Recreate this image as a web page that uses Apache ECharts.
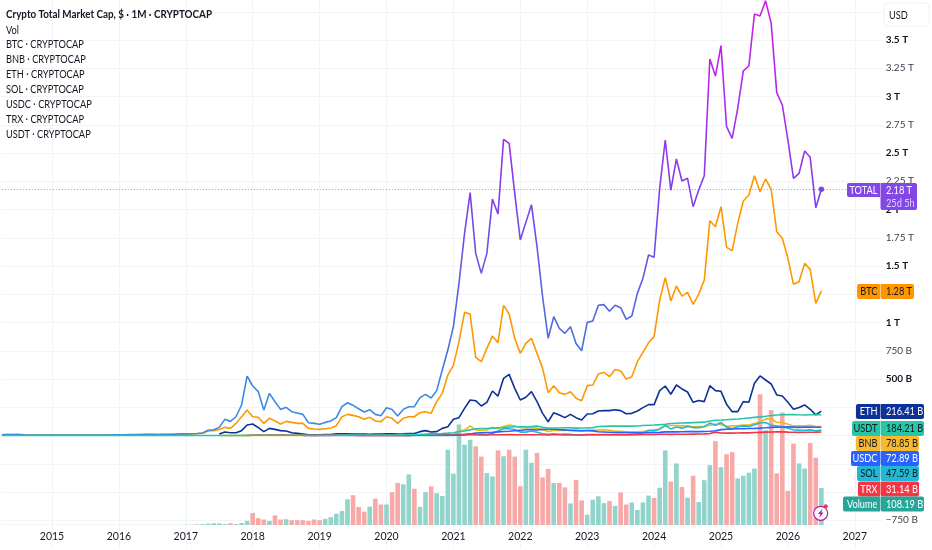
<!DOCTYPE html>
<html><head><meta charset="utf-8">
<style>html,body{margin:0;padding:0;background:#fff}#c{width:932px;height:550px}</style>
<script src="https://cdn.jsdelivr.net/npm/echarts@6/dist/echarts.min.js"></script>
</head><body><div id="c"></div>
<script>
// months run from Apr 2014 (index 0) to Jun 2027; values in billions of USD
const firstYear = 2014, firstMonth = 3, monthCount = 159;
const yearLabels = [2015,2016,2017,2018,2019,2020,2021,2022,2023,2024,2025,2026,2027];
const titleLines = ["Crypto Total Market Cap, $ · 1M · CRYPTOCAP","Vol","BTC · CRYPTOCAP","BNB · CRYPTOCAP","ETH · CRYPTOCAP","SOL · CRYPTOCAP","USDC · CRYPTOCAP","TRX · CRYPTOCAP","USDT · CRYPTOCAP"];

const totalVals = [6,8,8,8,6,5,5,5,5, 3.5,3.5,3.5,3.5,3.5,3.5,4,3.5,3.5,4,5,6, 6,7,7.5,7.5,9,10.5,10,9.5,10,10.5,11,14, 14,16,
18,22,46,51,72,143,125,166,270,526,438,388,225,373,299,231,249,211,199,187,113,107,99,116,128,158,255,290,267,237,208,228,187,175,246,231,172,231,255,255,335,364,332,397,
580,756,
963,1346,1789,2149,1612,1435,1612,2093,1960,2621,2585,2143,1730,1886,2043,1671,1228,860,1052,948,904,963,815,750,1001,1013,1152,1158,1099,1152,1131,
1028,1057,1258,1391,1597,1577,2187,2615,2172,2447,2252,2276,2025,2172,2299,3332,3181,3450,2733,2630,2895,3226,3270,3730,3712,3848,3647,3034,2925,2615,2276,2320,2518,2462,2016,2180];

const btcVals = [5.5,7.5,7.5,7.5,5.5,4.5,4.5,4.5,4.5, 3,3,3,3,3,3,3.5,3.2,3.2,3.5,4.5,5.5, 5.5,6.2,6.5,6.5,8,9.5,9,8.8,9.2,9.5,11.5,13, 13,14,16,
20,40,43,54,72,63,107,166,225,166,161,107,152,128,102,125,116,107,107,63,57,54,60,66,87,166,187,178,166,143,161,128,122,166,152,107,152,166,166,202,211,196,299,373,535,
620,830,1090,1075,692,653,771,880,821,1152,1075,860,727,815,860,727,594,
379,441,379,364,388,329,308,441,447,544,559,520,585,571,500,520,653,735,820,
875,1199,1397,1190,1323,1234,1267,1161,1249,1376,1901,1848,2025,1665,1636,1877,2075,2128,2299,2158,2270,2178,1804,1745,1568,1338,1361,1523,1470,1169,1280];

const ethStart = 39;
const ethVals = [13,31,25,25,43,93,102,69,34,63,54,43,40,25,19,13,7,
7,7,8,9,15,16,15,12,12,12,11,12,12,14,15,12,14,18,18,
34,43,31,34,63,78,143,158,240,314,308,261,293,394,349,506,541,417,314,338,388,299,196,122,202,181,158,187,158,137,190,193,217,220,220,228,220,193,196,217,
247,273,273,397,438,365,447,412,385,294,309,300,441,397,391,276,211,211,300,294,462,527,491,456,359,350,294,232,247,270,232,182,216.41];

const bnbStart = 39;
const bnbVals = [0.3,0.2,0.2,0.2,0.3,0.6,1,1.3,1.3,1.3,1.4,1.5,1.8,1.5,1.3,1.2,0.9,0.8,1,1.5,2,3,3,4,4,4,3,3,2.5,2.2,2,2.4,2,1.8,2.5,3,3.5,4,4,4,4.2,5.6,
6,35,48,85,50,45,50,70,62,80,92,85,70,70,72,63,50,35,45,47,44,50,47,39,49,48,49,51,47,38,37,33,32,33,34,47,45,60,90,88,88,85,85,78,80,82,91,100,97,82,85,85,92,92,107,120,145,150,115,115,100,85,85,85,90,80,78.85];

const solStart = 72;
const solVals = [0.03,0.03,0.05,0.1,0.15,0.3,0.1,0.1,0.1,
1.5,4,5,13,10,10,9,18,40,60,60,53,30,30,40,28,15,11,15,11,12,11,5,3,9,8,8,9,8,8,10,8,8,16,25,44,43,56,90,58,75,65,80,70,70,78,110,90,115,75,60,78,85,80,95,110,115,90,85,75,65,50,48,47,50,42,47.59];

const usdcStart = 54;
const usdcVals = [0.1,0.1,0.2,0.2,0.3,0.3,0.3,0.4,0.4,0.4,0.5,0.5,0.5,0.5,0.5,0.5,0.6,0.7,0.9,1.2,1.8,2.5,2.9,2.8,3,3.5,4,
6,9,11,14,22,25,27,28,32,35,38,42,45,53,52,49,54,55,55,52,50,44,43,44,42,41,33,31,29,27,27,26,25,24,24,24,26,28,32,33,32,33,34,34,34,35,38,42,52,56,58,60,60,62,63,65,68,72,73,75,76,74,72,74,75,73,72.89];

const trxStart = 44;
const trxVals = [1.5,2.5,3,2,3,4,4,3,2.5,1.7,1.7,1.6,1.5,2,2,3,3,2,1.7,1.6,1.5,1.5,1.5,1,1,1.2,1.2,1.3,1.4,1.5,2,2,2,2,2,2,2,
2.3,3,4,9,6,5,5,7,7,7,9,7,6,6,7,6,6,5,6,6,5,5,5,5,6,6,6,6,6,6,7,7,8,8,9,9,9,11,11,10,11,11,11,12,13,14,17,30,22,21,21,22,23,23,26,28,30,31,32,32,30,29,28,29,29,30,31.14];

const usdtVals = [0,0,0,0,0,0,0,0,0,0,0,0,0,0,0,0,0,0,0,0.1,0.1,0.1,0.1,0.1,0.1,0.1,0.1,0.1,0.1,0.1,0.1,0.1,0.1,
0.1,0.1,0.1,0.1,0.1,0.2,0.3,0.4,0.4,0.5,0.8,1.3,2.2,2.2,2.4,2.3,2.5,2.6,2.7,2.8,2.8,2,1.8,1.9,2,2,2,2.8,3,3.6,4,4,4,4,4.1,4.2,4.4,4.6,6,8,9,9.2,10,12,15,16,18,21,
25,35,40,50,60,62,62,65,68,70,75,78,78,78,80,83,73,66,66,67,68,69,65,66,67,70,79,81,83,83,84,83,83,84,88,91,93,96,100,106,108,110,112,114,116,118,128,135,137,140,143,146,150,155,160,165,170,177,182,184,186,185,183,182,183,183,184.21];

const volVals = [0.5,0.5,0.5,0.5,0.5,0.5,0.5,0.5,0.5, 0.4,0.4,0.4,0.4,0.4,0.4,0.4,0.4,0.4,0.4,0.5,0.5, 0.5,0.5,0.5,0.5,0.5,0.5,0.5,0.5,0.5,0.5,0.5,0.5, 1,1,
2,3,4,5,5,3,5,3,6,12,
35,20,16,12,28,16,17,14,14,14,
12,16,14,18,23,33,41,75,87,53,
39,54,77,60,60,96,123,119,148,106,
53,96,113,93,85,220,150,294,235,249,
230,200,152,142,218,201,220,200,113,220,
182,211,139,164,123,123,110,63,132,72,
30,74,84,64,70,56,95,60,66,44,
66,86,79,109,218,127,180,111,80,144,
67,131,175,245,169,207,213,136,144,153,
165,382,277,336,151,329,100,238,180,165,
240,197,108.19];

// 1 = down month (red bar), 0 = up month (teal bar)
const volDown = [0,0,0,0,0,0,0,0,0, 0,0,0,0,0,0,0,0,0,0,0,0, 0,0,0,0,0,0,0,0,0,0,0,0, 0,0,
1,0,0,0,0,0,1,0,0,0,
1,1,1,0,1,1,0,1,1,1,
1,1,1,0,0,0,0,0,1,1,
1,0,1,1,0,1,1,0,0,1,
0,0,1,0,0,0,0,0,0,0,
1,1,0,0,1,0,1,1,1,0,
0,1,1,1,0,1,1,0,1,1,
0,0,0,0,1,0,1,1,0,0,
0,0,1,0,0,1,0,1,0,1,
0,0,0,1,0,1,1,0,0,0,
0,1,0,1,1,1,1,1,0,0,
1,1,0];

const tagRows = [
 {name:"TOTAL",val:"2.18\u202fT",sub:"25d 5h",y:183,h:14,l:847,r:917,bg:"#8247E5",fg:"#fff"},
 {name:"BTC",val:"1.28\u202fT",y:284,h:15,l:857,r:914,bg:"#FF9800",fg:"#131722"},
 {name:"ETH",val:"216.41\u202fB",y:404,h:15,l:856,r:924,bg:"#0C3299",fg:"#fff"},
 {name:"USDT",val:"184.21\u202fB",y:421,h:15,l:852,r:924,bg:"#26C6A6",fg:"#131722"},
 {name:"BNB",val:"78.85\u202fB",y:436,h:15,l:856,r:919,bg:"#F6B92F",fg:"#131722"},
 {name:"USDC",val:"72.89\u202fB",y:451,h:15,l:851,r:919,bg:"#2962FF",fg:"#fff"},
 {name:"SOL",val:"47.59\u202fB",y:466,h:15,l:857,r:919,bg:"#22B8D4",fg:"#131722"},
 {name:"TRX",val:"31.14\u202fB",y:481.5,h:15,l:858,r:919,bg:"#F23645",fg:"#fff"},
 {name:"Volume",val:"108.19\u202fB",y:496.5,h:15,l:843,r:924,bg:"#26A69A",fg:"#fff"}
];

const FONT = 'Lato, "Noto Sans", sans-serif';
const months = [];
for (let i = 0; i < monthCount; i++) {
  const t = firstYear*12 + firstMonth + i;
  months.push(Math.floor(t/12) + "-" + String(t%12+1).padStart(2,"0"));
}
const pad = (arr, start) => new Array(start).fill(null).concat(arr);
const isYear = (i) => months[i].endsWith("-01") && yearLabels.includes(+months[i].slice(0,4));
const hiddenTicks = [3750,1250,250,0,-250,-500];
const fmtY = (v) => {
  if (hiddenTicks.includes(v)) return "";
  const a = Math.abs(v), s = v<0?"\u2212":"";
  const t = a>=1000 ? (a/1000)+"\u202fT" : a+"\u202fB";
  return (a%500===0 ? "{b|"+s+t+"}" : "{n|"+s+t+"}");
};
const lineS = (name, data, color, extra) => Object.assign({
  name, type:"line", data, xAxisIndex:0, yAxisIndex:0, showSymbol:false, symbol:"none",
  connectNulls:false, z:5, silent:true, lineStyle:{color, width:1.6}
}, extra||{});

const totalGrad = {type:"linear",x:0,y:0,x2:0,y2:436,global:true,colorStops:[
 {offset:0,color:"#CF1CE8"},{offset:0.25,color:"#A92EEA"},{offset:0.45,color:"#7E40E8"},
 {offset:0.65,color:"#5E5EE3"},{offset:0.8,color:"#4672E0"},{offset:0.9,color:"#3A8CE0"},{offset:1,color:"#3A8CE0"}]};

// squeezed text helper: Lato scaled horizontally to the reference's narrow glyphs
const label = (text,x,y,fill,size,sx,opts) => Object.assign({type:"text",z:111,x,y,scaleX:sx,
  style:Object.assign({text,x:0,y:0,fill,font:size+"px "+FONT,textVerticalAlign:"middle"},opts||{})});

const graphics = [];
titleLines.forEach((t,i)=>{
  graphics.push(label(t,6,i===0?14:30+(i-1)*14.9,"#131722",i===0?"bold 11":"11",i===0?0.895:0.84));
});
graphics[0].style.font = "bold 11px "+FONT;
graphics.push({type:"rect",z:100,shape:{x:884,y:3,width:45,height:23,r:3},style:{fill:"#fff",stroke:"#f0f1f3",lineWidth:1}});
graphics.push(label("USD",889,15,"#131722",11,0.84));
tagRows.forEach(t=>{
  const cy = t.y+t.h/2;
  graphics.push({type:"rect",z:110,shape:{x:t.l,y:t.y,width:880-t.l,height:t.h,r:[2,0,0,2]},style:{fill:t.bg}});
  graphics.push({type:"rect",z:110,shape:{x:880.5,y:t.y,width:t.r-880.5,height:t.sub?27:t.h,r:[0,2,2,2]},style:{fill:t.bg}});
  graphics.push(label(t.name,877.5,cy,t.fg,11,0.84,{textAlign:"right"}));
  graphics.push(label(t.val,886,cy,t.fg,11,0.84));
  if (t.sub) graphics.push(label(t.sub,886,cy+13,"#E0CFFA",11,0.84));
});
// lightning badge
graphics.push({type:"circle",z:105,shape:{cx:820.7,cy:513.3,r:7},style:{fill:"#fff",stroke:"#B5179E",lineWidth:1.2}});
graphics.push({type:"polygon",z:106,shape:{points:[[822.5,508.5],[818,514],[820.5,514],[819,518.2],[823.6,512.5],[821.2,512.5]]},style:{fill:"#B5179E"}});
graphics.push({type:"circle",z:107,shape:{cx:825.8,cy:506.2,r:2},style:{fill:"#F23645"}});

const chart = echarts.init(document.getElementById("c"),null,{renderer:"canvas",width:932,height:550});
const gridLeft = 1.825, gridW = 158*5.575;
chart.setOption({
  animation:false,
  backgroundColor:"#fff",
  textStyle:{fontFamily:FONT},
  grid:[
    {left:gridLeft,width:gridW,top:0,height:548.5,containLabel:false},
    {left:gridLeft,width:gridW,top:388.2,height:136.8,containLabel:false}
  ],
  xAxis:[
    {type:"category",gridIndex:0,data:months,boundaryGap:false,axisLine:{show:false},axisTick:{show:false},axisLabel:{show:false},
      splitLine:{show:true,interval:(i)=>isYear(i),lineStyle:{color:"#f3f4f6",width:1}}},
    {type:"category",gridIndex:1,data:months,boundaryGap:false,axisLine:{show:false},axisTick:{show:false},
      splitLine:{show:false},
      axisLabel:{show:true,interval:(i)=>isYear(i),formatter:(v)=>v.slice(0,4),color:"#131722",fontSize:10.5,fontFamily:FONT,margin:6,hideOverlap:false,showMinLabel:true,showMaxLabel:true}}
  ],
  yAxis:[
    {type:"value",gridIndex:0,position:"right",min:-1000,max:3854,interval:250,scale:false,axisLine:{show:false},axisTick:{show:false},
      splitLine:{show:true,showMinLine:false,showMaxLine:false,lineStyle:{color:"#f3f4f6",width:1}},
      axisLabel:{show:true,showMinLabel:false,showMaxLabel:false,margin:3,formatter:fmtY,
        rich:{b:{fontWeight:"bold",fontSize:10,color:"#131722",fontFamily:FONT},n:{fontSize:10,color:"#3a3e4a",fontFamily:FONT}}}},
    {type:"value",gridIndex:1,position:"right",min:0,max:400,axisLine:{show:false},axisTick:{show:false},axisLabel:{show:false},splitLine:{show:false}}
  ],
  series:[
    {name:"Volume",type:"bar",xAxisIndex:1,yAxisIndex:1,barWidth:4.6,z:1,silent:true,
      data:volVals.map((v,i)=>({value:v,itemStyle:{color:volDown[i]?"#F7A9A7":"#92D3CC"}}))},
    lineS("BTC",btcVals,"#FF9800",{z:6}),
    lineS("TOTAL",totalVals,totalGrad,{z:7,
      markLine:{silent:true,symbol:"none",label:{show:false},lineStyle:{color:"#A58BEA",type:[1,2],width:1},data:[{yAxis:totalVals[totalVals.length-1]}]},
      markPoint:{silent:true,symbol:"circle",symbolSize:5.5,itemStyle:{color:"#8247E5"},label:{show:false},
        data:[{coord:[totalVals.length-1,totalVals[totalVals.length-1]]}]}}),
    lineS("BNB",pad(bnbVals,bnbStart),"#F0B90B",{z:8}),
    lineS("ETH",pad(ethVals,ethStart),"#0C3299",{z:9}),
    lineS("SOL",pad(solVals,solStart),"#22B8D4",{z:10}),
    lineS("USDC",pad(usdcVals,usdcStart),"#2962FF",{z:11}),
    lineS("TRX",pad(trxVals,trxStart),"#F23645",{z:12}),
    lineS("USDT",usdtVals,"#26C6A6",{z:13})
  ],
  graphic:graphics
});
</script></body></html>
